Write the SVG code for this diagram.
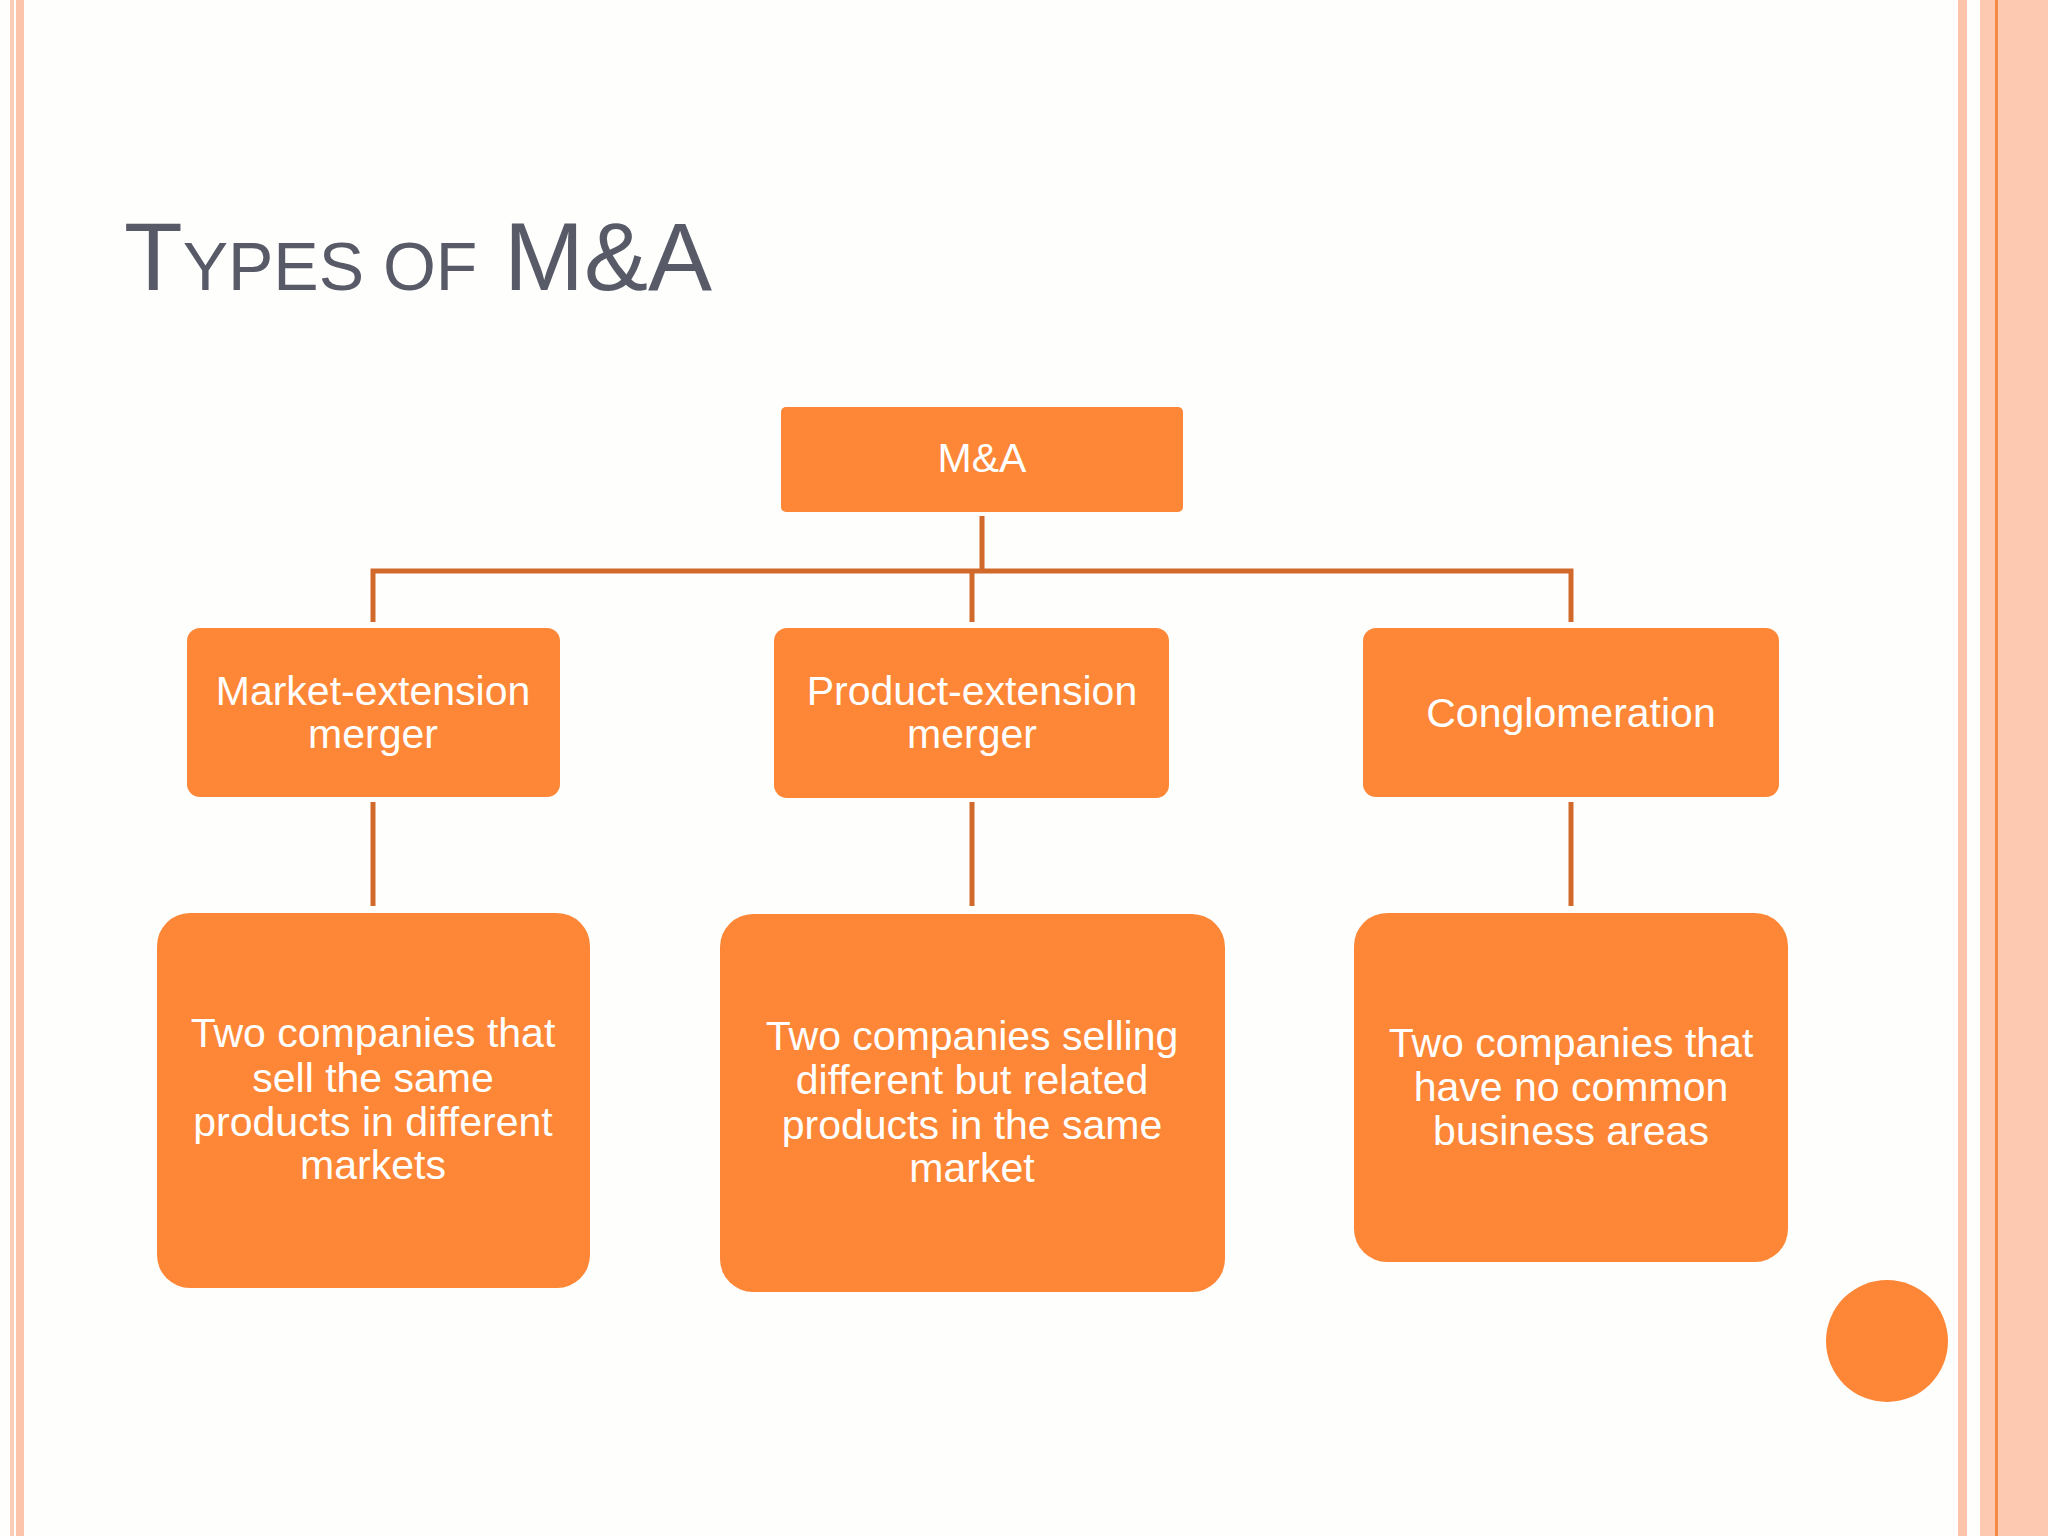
<svg xmlns="http://www.w3.org/2000/svg" width="2048" height="1536" viewBox="0 0 2048 1536">
<style>
.box{fill:#FD8736}
.t{font-family:"Liberation Sans",Arial,sans-serif;fill:#fff;font-size:41px;text-anchor:middle}
.c{stroke:#D0692A;stroke-width:5;fill:none}
</style>
<rect width="2048" height="1536" fill="#FEFEFD"/>
<rect x="10" y="0" width="4" height="1536" fill="#FBCDB8"/>
<rect x="16" y="0" width="8" height="1536" fill="#FBC4AB"/>
<rect x="1958" y="0" width="9" height="1536" fill="#FBC4AB"/>
<rect x="1980" y="0" width="68" height="1536" fill="#FDC9B1"/>
<rect x="1995" y="0" width="3" height="1536" fill="#F58A45"/>
<text x="124" y="290" font-family="Liberation Sans,Arial,sans-serif" fill="#585A68" font-size="96">T<tspan font-size="68">YPES OF</tspan> M&amp;A</text>
<g id="connectors" class="c">
<path d="M982 516V571M373 622V571H1571V622M972 571V622"/>
<path d="M373 802V906M972 802V906M1571 802V906"/>
</g>
<g id="ma"><rect class="box" x="781" y="407" width="402" height="105" rx="5"/><text class="t" x="982" y="472">M&amp;A</text></g>
<g id="market"><rect class="box" x="187" y="628" width="373" height="169" rx="13"/><text class="t" x="373" y="705">Market-extension</text><text class="t" x="373" y="748">merger</text></g>
<g id="product"><rect class="box" x="774" y="628" width="395" height="170" rx="13"/><text class="t" x="972" y="705">Product-extension</text><text class="t" x="972" y="748">merger</text></g>
<g id="conglo"><rect class="box" x="1363" y="628" width="416" height="169" rx="13"/><text class="t" x="1571" y="727">Conglomeration</text></g>
<g id="d1"><rect class="box" x="157" y="913" width="433" height="375" rx="33"/><text class="t" x="373" y="1047">Two companies that</text><text class="t" x="373" y="1092">sell the same</text><text class="t" x="373" y="1136">products in different</text><text class="t" x="373" y="1179">markets</text></g>
<g id="d2"><rect class="box" x="720" y="914" width="505" height="378" rx="33"/><text class="t" x="972" y="1050">Two companies selling</text><text class="t" x="972" y="1094">different but related</text><text class="t" x="972" y="1139">products in the same</text><text class="t" x="972" y="1182">market</text></g>
<g id="d3"><rect class="box" x="1354" y="913" width="434" height="349" rx="33"/><text class="t" x="1571" y="1057">Two companies that</text><text class="t" x="1571" y="1101">have no common</text><text class="t" x="1571" y="1145">business areas</text></g>
<circle cx="1887" cy="1341" r="61" fill="#FD8736"/>
</svg>
